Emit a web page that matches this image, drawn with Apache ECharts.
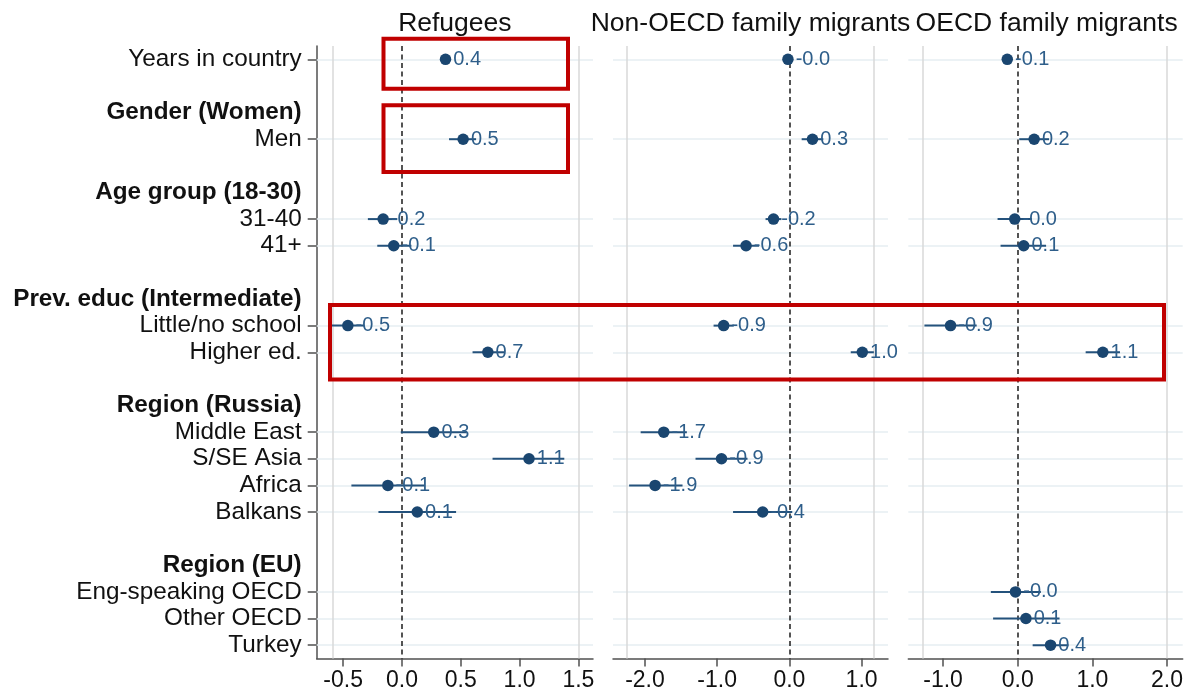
<!DOCTYPE html>
<html><head><meta charset="utf-8">
<script src="https://cdn.jsdelivr.net/npm/echarts@6/dist/echarts.min.js"></script>
<style>html,body{margin:0;padding:0;background:#fff}#c{width:1186px;height:694px}</style>
</head><body><div id="c"></div>
<script>
// ---- data ----
const categories = ['Years in country', ' ', 'Gender (Women)', 'Men', '  ', 'Age group (18-30)', '31-40', '41+', '   ',
  'Prev. educ (Intermediate)', 'Little/no school', 'Higher ed.', '    ', 'Region (Russia)', 'Middle East', 'S/SE Asia',
  'Africa', 'Balkans', '     ', 'Region (EU)', 'Eng-speaking OECD', 'Other OECD', 'Turkey'];
const headerRows = ['Gender (Women)', 'Age group (18-30)', 'Prev. educ (Intermediate)', 'Region (Russia)', 'Region (EU)'];
const itemRows = ['Years in country', 'Men', '31-40', '41+', 'Little/no school', 'Higher ed.', 'Middle East', 'S/SE Asia',
  'Africa', 'Balkans', 'Eng-speaking OECD', 'Other OECD', 'Turkey'];
const panelTitles = ['Refugees', 'Non-OECD family migrants', 'OECD family migrants'];

const refugeesEst = [0.37, 0.52, -0.16, -0.07, -0.46, 0.73, 0.27, 1.08, -0.12, 0.13, null, null, null];
const refugeesLo  = [0.345, 0.40, -0.29, -0.21, -0.60, 0.60, -0.01, 0.77, -0.43, -0.20, null, null, null];
const refugeesHi  = [0.395, 0.63, -0.04, 0.08, -0.32, 0.87, 0.55, 1.38, 0.19, 0.46, null, null, null];

const nonOecdEst = [-0.02, 0.32, -0.22, -0.60, -0.91, 1.01, -1.74, -0.94, -1.86, -0.37, null, null, null];
const nonOecdLo  = [-0.04, 0.17, -0.33, -0.78, -1.05, 0.85, -2.06, -1.30, -2.22, -0.78, null, null, null];
const nonOecdHi  = [0.00, 0.47, -0.11, -0.42, -0.77, 1.17, -1.42, -0.58, -1.48, 0.04, null, null, null];

const oecdEst = [-0.14, 0.22, -0.04, 0.08, -0.90, 1.14, null, null, null, null, -0.03, 0.11, 0.44];
const oecdLo  = [-0.16, 0.02, -0.27, -0.23, -1.25, 0.91, null, null, null, null, -0.36, -0.33, 0.20];
const oecdHi  = [-0.12, 0.42, 0.19, 0.38, -0.55, 1.37, null, null, null, null, 0.31, 0.56, 0.68];

const refugeesTicks = [-0.5, 0, 0.5, 1, 1.5];
const nonOecdTicks = [-2, -1, 0, 1];
const oecdTicks = [-1, 0, 1, 2];

const refugeesRange = [-0.725, 1.624];
const nonOecdRange = [-2.443, 1.366];
const oecdRange = [-1.466, 2.21];

const refugeesFrame = [-0.593, 1.5];
const nonOecdFrame = [-2.245, 1.172];
const oecdFrame = [-1.267, 2.0];

// ---- layout / style ----
const FONT = 'Liberation Sans, Arial, Helvetica, sans-serif';
const NAVY = '#1a4670';
const panels = [
  {est: refugeesEst, lo: refugeesLo, hi: refugeesHi, ticks: refugeesTicks, range: refugeesRange, frame: refugeesFrame, left: 316.7, width: 276.3},
  {est: nonOecdEst, lo: nonOecdLo, hi: nonOecdHi, ticks: nonOecdTicks, range: nonOecdRange, frame: nonOecdFrame, left: 613, width: 275},
  {est: oecdEst, lo: oecdLo, hi: oecdHi, ticks: oecdTicks, range: oecdRange, frame: oecdFrame, left: 908.3, width: 276.7}
];
const TOP = 46, HEIGHT = 612.5;

const grid = [], xAxis = [], yAxis = [], series = [], title = [];
panels.forEach((p, k) => {
  grid.push({left: p.left, top: TOP, width: p.width, height: HEIGHT, containLabel: false});
  title.push({text: panelTitles[k], left: p.left + p.width / 2, top: 10, padding: 0, textAlign: 'center',
    textStyle: {fontFamily: FONT, fontSize: 26.5, fontWeight: 'normal', color: '#111'}});
  xAxis.push({type: 'value', gridIndex: k, min: p.range[0], max: p.range[1],
    axisLine: {show: true, onZero: false, lineStyle: {color: '#505050', width: 1.5}},
    axisTick: {show: true, length: 8, customValues: p.ticks, lineStyle: {color: '#505050', width: 1.5}},
    axisLabel: {show: true, customValues: p.ticks, margin: 11, fontFamily: FONT, fontSize: 23, color: '#111',
      formatter: v => Number(v).toFixed(1)},
    splitLine: {show: false}});
  yAxis.push({type: 'category', gridIndex: k, data: categories, inverse: true,
    axisLine: {show: k === 0, onZero: false, lineStyle: {color: '#505050', width: 1.5}},
    axisTick: {show: k === 0, alignWithLabel: true, length: 9, lineStyle: {color: '#505050', width: 1.5},
      interval: (i, v) => itemRows.indexOf(v) >= 0},
    axisLabel: {show: k === 0, interval: 0, margin: 15, fontFamily: FONT, fontSize: 24.3, color: '#111',
      formatter: v => headerRows.indexOf(v) >= 0 ? '{b|' + v + '}' : v,
      rich: {b: {fontWeight: 'bold', fontFamily: FONT, fontSize: 24.3, color: '#111'}}},
    splitLine: {show: false}});

  // gridlines
  series.push({type: 'line', xAxisIndex: k, yAxisIndex: k, data: [], z: 1, silent: true,
    markLine: {silent: true, z: 1, symbol: 'none', animation: false, label: {show: false},
      data: [
        ...itemRows.map(r => ({yAxis: r, lineStyle: {color: '#e6eef2', width: 1.5, type: 'solid'}})),
        ...p.frame.map(v => ({xAxis: v, lineStyle: {color: '#d9d9d9', width: 1.5, type: 'solid'}})),
        {xAxis: 0, lineStyle: {color: '#2a2a2a', width: 1.6, type: [5, 3.5]}}
      ]}});

  const ciData = [], ptData = [];
  itemRows.forEach((r, i) => {
    if (p.est[i] === null) return;
    const row = categories.indexOf(r);
    ciData.push([p.lo[i], p.hi[i], row]);
    ptData.push([p.est[i], row]);
  });
  series.push({type: 'custom', xAxisIndex: k, yAxisIndex: k, z: 10, silent: true, data: ciData,
    encode: {x: [0, 1], y: 2},
    renderItem: (params, api) => {
      const a = api.coord([api.value(0), api.value(2)]);
      const b = api.coord([api.value(1), api.value(2)]);
      return {type: 'line', shape: {x1: a[0], y1: a[1], x2: b[0], y2: b[1]},
        style: {stroke: '#24527c', lineWidth: 2, opacity: 1}};
    }});
  series.push({type: 'scatter', xAxisIndex: k, yAxisIndex: k, z: 11, data: ptData, symbol: 'circle', symbolSize: 11.5,
    itemStyle: {color: NAVY, opacity: 1},
    label: {show: true, position: 'right', distance: 2, fontFamily: FONT, fontSize: 20, color: '#2e5e8a',
      formatter: d => d.value[0].toFixed(1)}});
});

const chart = echarts.init(document.getElementById('c'), null, {renderer: 'canvas'});
chart.setOption({
  animation: false,
  backgroundColor: '#fff',
  title, grid, xAxis, yAxis, series,
  graphic: [
    {type: 'rect', shape: {x: 383.5, y: 38.8, width: 184.5, height: 50}, style: {fill: 'none', stroke: '#c00000', lineWidth: 4}, z: 100},
    {type: 'rect', shape: {x: 383.5, y: 105.3, width: 184.5, height: 66.7}, style: {fill: 'none', stroke: '#c00000', lineWidth: 4}, z: 100},
    {type: 'rect', shape: {x: 330, y: 305, width: 834, height: 74.5}, style: {fill: 'none', stroke: '#c00000', lineWidth: 4}, z: 100}
  ]
});
</script></body></html>
